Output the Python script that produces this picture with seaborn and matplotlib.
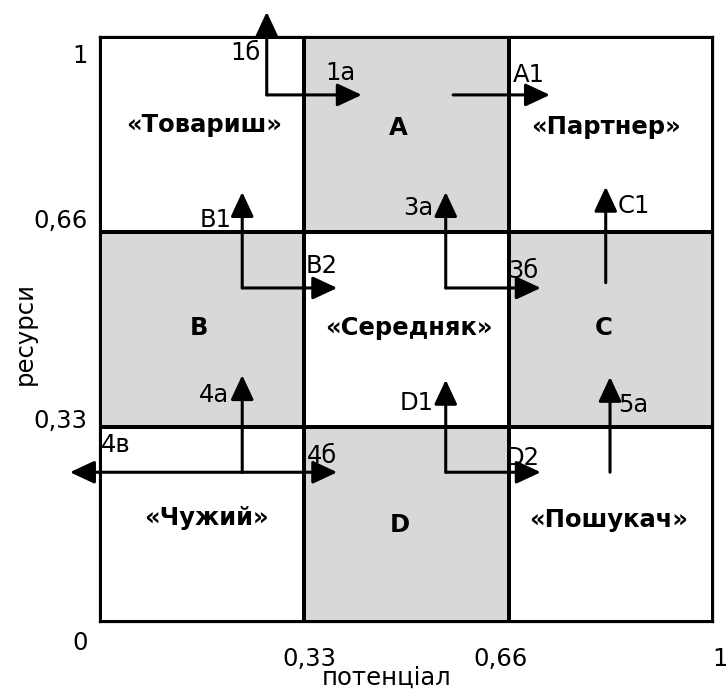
import numpy as np
import matplotlib
matplotlib.use("Agg")
import matplotlib.pyplot as plt
import matplotlib.transforms as mtransforms
from matplotlib.colors import ListedColormap
from matplotlib.patches import FancyArrowPatch
import seaborn as sns

# 3x3 matrix, rows from bottom (low resources) to top; 1 = shaded cell
grid = np.array([[0, 1, 0],
                 [1, 0, 1],
                 [0, 1, 0]])

# cell names (bold), in potential/resource units 0..1
cell_names = ["«Товариш»", "A", "«Партнер»",
              "B", "«Середняк»", "C",
              "«Чужий»", "D", "«Пошукач»"]
cell_x = [0.170, 0.486, 0.825, 0.162, 0.504, 0.821, 0.173, 0.489, 0.830]
cell_y = [0.838, 0.833, 0.834, 0.491, 0.491, 0.491, 0.166, 0.154, 0.162]

# transitions: start and end of every arrow
arrow_x0 = [0.272, 0.272, 0.576, 0.232, 0.232, 0.564, 0.564, 0.825,
            0.232, 0.232, 0.232, 0.564, 0.564, 0.832]
arrow_y0 = [0.901, 0.901, 0.901, 0.571, 0.571, 0.571, 0.571, 0.580,
            0.256, 0.256, 0.256, 0.256, 0.256, 0.256]
arrow_x1 = [0.272, 0.427, 0.734, 0.232, 0.387, 0.564, 0.719, 0.825,
            0.232, 0.387, -0.049, 0.564, 0.719, 0.832]
arrow_y1 = [1.043, 0.901, 0.901, 0.735, 0.571, 0.735, 0.571, 0.744,
            0.422, 0.256, 0.256, 0.414, 0.256, 0.419]

# arrow labels
arrow_labels = ["1б", "1а", "A1", "B1", "B2", "3а", "3б", "C1",
                "4а", "4б", "4в", "D1", "D2", "5а"]
label_x = [0.237, 0.392, 0.700, 0.188, 0.362, 0.519, 0.690, 0.871,
           0.186, 0.362, 0.025, 0.516, 0.690, 0.870]
label_y = [0.961, 0.927, 0.923, 0.675, 0.597, 0.696, 0.588, 0.699,
           0.376, 0.272, 0.291, 0.362, 0.268, 0.359]

# axis marks
ytick_labels = ["1", "0,66", "0,33", "0"]
ytick_y = [0.956, 0.674, 0.332, -0.048]
xtick_labels = ["0,33", "0,66", "1"]
xtick_x = [0.341, 0.654, 1.011]

sns.set_theme(style="white")
plt.rcParams["font.family"] = ["DejaVu Sans"]
plt.rcParams["text.color"] = "black"
fs = 17.5

fig = plt.figure(figsize=(7.26, 6.91), dpi=100)
ax = fig.add_axes([100 / 726, 69 / 691, 613 / 726, 585 / 691])

sns.heatmap(grid, ax=ax, cmap=ListedColormap(["white", "#d8d8d8"]),
            vmin=0, vmax=1, cbar=False, linewidths=1.5, linecolor="black",
            xticklabels=False, yticklabels=False)
ax.set_xlim(0, 3)
ax.set_ylim(0, 3)
for s in ax.spines.values():
    s.set_visible(True)
    s.set_color("black")
    s.set_linewidth(1.6)

# work in 0..1 units on top of the heatmap's 0..3 cells
tr = mtransforms.Affine2D().scale(3) + ax.transData

for name, x, y in zip(cell_names, cell_x, cell_y):
    ax.text(x, y, name, transform=tr, ha="center", va="baseline",
            fontsize=fs, fontweight="bold", color="black")

for x0, y0, x1, y1 in zip(arrow_x0, arrow_y0, arrow_x1, arrow_y1):
    ar = FancyArrowPatch((x0, y0), (x1, y1), transform=tr,
                         arrowstyle="-|>,head_length=15,head_width=7",
                         mutation_scale=1, lw=2.2, color="black",
                         shrinkA=0, shrinkB=0, capstyle="round",
                         clip_on=False, zorder=5)
    ax.add_patch(ar)

for lab, x, y in zip(arrow_labels, label_x, label_y):
    ax.text(x, y, lab, transform=tr, ha="center", va="baseline",
            fontsize=fs, color="black")

for lab, y in zip(ytick_labels, ytick_y):
    if lab in ("1", "0"):
        ax.text(-0.033, y, lab, transform=tr, ha="center", va="baseline",
                fontsize=fs, color="black", clip_on=False)
    else:
        ax.text(-0.021, y, lab, transform=tr, ha="right", va="baseline",
                fontsize=fs, color="black", clip_on=False)

for lab, x in zip(xtick_labels, xtick_x):
    ax.text(x, -0.076, lab, transform=tr, ha="center", va="baseline",
            fontsize=fs, color="black", clip_on=False)

ax.text(0.467, -0.108, "потенціал", transform=tr, ha="center",
        va="baseline", fontsize=fs, color="black", clip_on=False)
ax.text(-0.122, 0.494, "ресурси", transform=tr, ha="center", va="center",
        rotation=90, fontsize=fs, color="black", clip_on=False)

fig.savefig("out.png", dpi=100)
